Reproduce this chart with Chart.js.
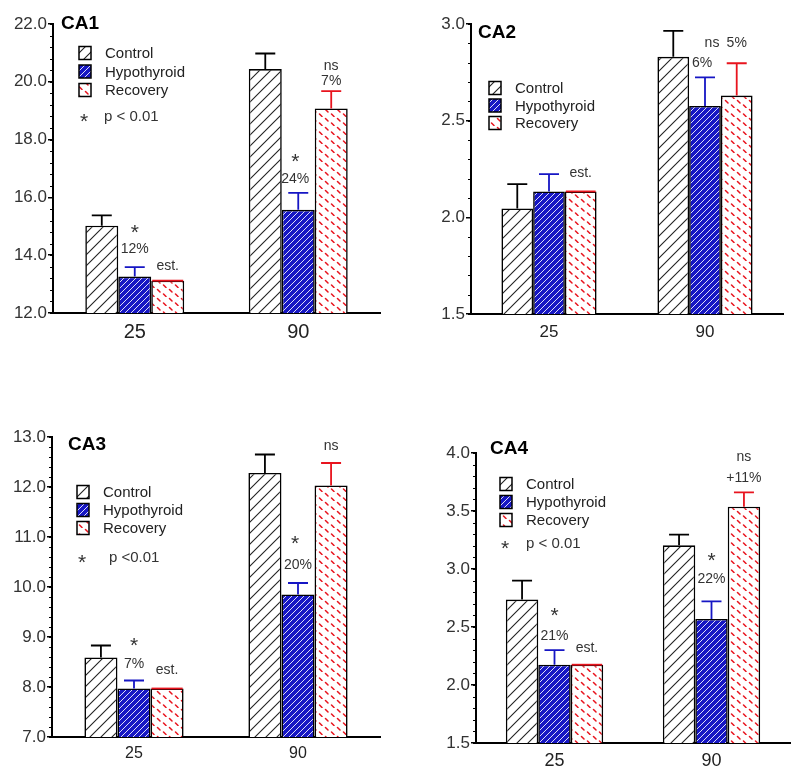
<!DOCTYPE html>
<html>
<head>
<meta charset="utf-8">
<script src="https://cdn.jsdelivr.net/npm/chart.js@4.4.0/dist/chart.umd.min.js"></script>
<style>
  body { margin: 0; background: #fff; width: 800px; height: 776px; position: relative; overflow: hidden; }
  canvas { position: absolute; }
</style>
</head>
<body>
<canvas id="ca1" width="400" height="345" style="left:0;top:0"></canvas>
<canvas id="ca2" width="400" height="345" style="left:400px;top:0"></canvas>
<canvas id="ca3" width="400" height="356" style="left:0;top:420px"></canvas>
<canvas id="ca4" width="400" height="356" style="left:400px;top:420px"></canvas>
<script>
// age groups (days) and series
var groups = ['25', '90'];
var seriesNames = ['Control', 'Hypothyroid', 'Recovery'];

// CA1
var ca1Control = [15.02, 20.44];
var ca1ControlSem = [0.36, 0.54];
var ca1Hypo = [13.26, 15.57];
var ca1HypoSem = [0.33, 0.59];
var ca1Recovery = [13.12, 19.08];
var ca1RecoverySem = [0, 0.60];
var ca1Ticks = [12.0, 22.0, 2.0, 0.4];

// CA2
var ca2Control = [2.046, 2.83];
var ca2ControlSem = [0.126, 0.134];
var ca2Hypo = [2.134, 2.576];
var ca2HypoSem = [0.089, 0.148];
var ca2Recovery = [2.134, 2.63];
var ca2RecoverySem = [0, 0.167];
var ca2Ticks = [1.5, 3.0, 0.5, 0.1];

// CA3
var ca3Control = [8.59, 12.28];
var ca3ControlSem = [0.24, 0.37];
var ca3Hypo = [7.97, 9.85];
var ca3HypoSem = [0.16, 0.23];
var ca3Recovery = [7.97, 12.03];
var ca3RecoverySem = [0, 0.45];
var ca3Ticks = [7.0, 13.0, 1.0, 0.2];

// CA4
var ca4Control = [2.736, 3.204];
var ca4ControlSem = [0.164, 0.092];
var ca4Hypo = [2.175, 2.569];
var ca4HypoSem = [0.125, 0.152];
var ca4Recovery = [2.175, 3.537];
var ca4RecoverySem = [0, 0.124];
var ca4Ticks = [1.5, 4.0, 0.5, 0.1];

// text above bars: [dataset, group, value, text, dx]
var ca1Notes = [[1,0,14.94,'*'], [1,0,14.21,'12%'], [2,0,13.63,'est.'], [1,1,17.40,'*',-3], [1,1,16.64,'24%',-3], [2,1,20.55,'ns'], [2,1,20.03,'7%']];
var ca2Notes = [[2,0,2.229,'est.'], [1,1,2.80,'6%',-3], [1,1,2.90,'ns',7], [2,1,2.90,'5%']];
var ca3Notes = [[1,0,8.91,'*'], [1,0,8.46,'7%'], [2,0,8.34,'est.'], [1,1,10.96,'*',-3], [1,1,10.44,'20%'], [2,1,12.81,'ns']];
var ca4Notes = [[1,0,2.64,'*'], [1,0,2.42,'21%'], [2,0,2.32,'est.'], [1,1,3.11,'*'], [1,1,2.91,'22%'], [2,1,3.96,'ns'], [2,1,3.78,'+11%']];

var FONT = '"Liberation Sans", Arial, sans-serif';
var BLUE = '#1616c4';
var RED = '#e8141e';

function makePattern(kind) {
  var c = document.createElement('canvas');
  var g = c.getContext('2d');
  if (kind == 'control') {
    c.width = 11; c.height = 11;
    g.fillStyle = '#fff'; g.fillRect(0, 0, 11, 11);
    g.strokeStyle = '#222'; g.lineWidth = 1.1;
    g.beginPath();
    g.moveTo(-1, 12); g.lineTo(12, -1);
    g.moveTo(-2, 2); g.lineTo(2, -2);
    g.moveTo(9, 13); g.lineTo(13, 9);
    g.stroke();
  } else if (kind == 'hypo') {
    c.width = 6; c.height = 6;
    g.fillStyle = BLUE; g.fillRect(0, 0, 6, 6);
    g.strokeStyle = 'rgba(255,255,255,0.85)'; g.lineWidth = 1;
    g.beginPath();
    g.moveTo(-1, 7); g.lineTo(7, -1);
    g.moveTo(-2, 2); g.lineTo(2, -2);
    g.moveTo(4, 8); g.lineTo(8, 4);
    g.stroke();
  } else {
    // short red dashes going down-right, staggered so they don't join up
    c.width = 12; c.height = 9;
    g.fillStyle = '#fff'; g.fillRect(0, 0, 12, 9);
    g.strokeStyle = RED; g.lineWidth = 1.5; g.lineCap = 'round';
    g.beginPath();
    g.moveTo(1.5, 1.5); g.lineTo(4, 4);
    g.moveTo(7.5, 6); g.lineTo(10, 8.5);
    g.stroke();
  }
  return g.createPattern(c, 'repeat');
}

var patterns = [makePattern('control'), makePattern('hypo'), makePattern('recovery')];
var errColors = ['#000', BLUE, RED];

// error bars (upward only), notes, legend, minor ticks, title
var extras = {
  id: 'extras',
  afterDatasetsDraw: function(chart) {
    var ctx = chart.ctx;
    var y = chart.scales.y;
    var p = chart.options.plugins.extras;
    ctx.save();
    chart.data.datasets.forEach(function(ds, d) {
      var meta = chart.getDatasetMeta(d);
      meta.data.forEach(function(bar, i) {
        var top = y.getPixelForValue(ds.data[i] + ds.sem[i]);
        var half = ds.sem[i] > 0 ? 10 : bar.width / 2 - 1;
        ctx.strokeStyle = errColors[d];
        ctx.lineWidth = 1.8;
        ctx.beginPath();
        ctx.moveTo(bar.x, bar.y);
        ctx.lineTo(bar.x, top);
        ctx.moveTo(bar.x - half, top);
        ctx.lineTo(bar.x + half, top);
        ctx.stroke();
      });
    });

    // notes
    ctx.fillStyle = '#333';
    ctx.textAlign = 'center';
    ctx.textBaseline = 'middle';
    p.notes.forEach(function(n) {
      var bar = chart.getDatasetMeta(n[0]).data[n[1]];
      var px = bar.x + (n[4] || 0);
      var py = y.getPixelForValue(n[2]);
      if (n[3] == '*') {
        ctx.font = '21px ' + FONT;
        ctx.fillText('*', px, py + 5);
      } else {
        ctx.font = '14px ' + FONT;
        ctx.fillText(n[3], px, py);
      }
    });

    // minor ticks on y axis
    var x0 = chart.chartArea.left;
    var t = p.ticks;
    ctx.strokeStyle = '#000';
    ctx.lineWidth = 1.2;
    ctx.beginPath();
    var nMinor = Math.round((t[1] - t[0]) / t[3]);
    for (var k = 0; k <= nMinor; k++) {
      var v = t[0] + k * t[3];
      var py2 = Math.round(y.getPixelForValue(v)) + 0.5;
      ctx.moveTo(x0 - 3, py2);
      ctx.lineTo(x0, py2);
    }
    ctx.stroke();

    // title
    ctx.fillStyle = '#000';
    ctx.textAlign = 'left';
    ctx.font = 'bold 19px ' + FONT;
    ctx.fillText(p.title, p.titlePos[0], p.titlePos[1]);

    // legend
    var L = p.legend;
    for (var s = 0; s < seriesNames.length; s++) {
      var cy = L.y + s * L.row;
      ctx.fillStyle = patterns[s];
      ctx.fillRect(L.x, cy - 6.5, 12, 13);
      ctx.strokeStyle = '#000';
      ctx.lineWidth = 1.5;
      ctx.strokeRect(L.x, cy - 6.5, 12, 13);
      ctx.fillStyle = '#222';
      ctx.font = '15px ' + FONT;
      ctx.fillText(seriesNames[s], L.x + 26, cy + 1);
    }
    if (L.p) {
      var cy3 = L.y + 3 * L.row + L.pGap;
      ctx.fillStyle = '#333';
      ctx.font = '21px ' + FONT;
      ctx.fillText('*', L.x + 1, cy3 + 5);
      ctx.font = '15px ' + FONT;
      ctx.fillText(L.p, L.x + L.pdx, cy3);
    }
    ctx.restore();
  }
};

function drawPanel(id, control, controlSem, hypo, hypoSem, recovery, recoverySem, ticks, notes, look) {
  var ctx = document.getElementById(id).getContext('2d');
  new Chart(ctx, {
    type: 'bar',
    data: {
      labels: groups,
      datasets: [
        { label: seriesNames[0], data: control, sem: controlSem, backgroundColor: patterns[0] },
        { label: seriesNames[1], data: hypo, sem: hypoSem, backgroundColor: patterns[1] },
        { label: seriesNames[2], data: recovery, sem: recoverySem, backgroundColor: patterns[2] }
      ]
    },
    options: {
      responsive: false,
      animation: false,
      datasets: {
        bar: { borderColor: '#000', borderWidth: 1.6, barPercentage: 1, categoryPercentage: look.cat }
      },
      layout: { padding: { top: look.top, right: look.right, left: 0, bottom: 0 } },
      scales: {
        x: {
          grid: { display: false, drawTicks: false },
          border: { color: '#000', width: 2 },
          ticks: { color: '#222', font: { family: FONT, size: look.xFont }, padding: look.xPad },
          afterFit: function(s) { s.height = look.xh; }
        },
        y: {
          min: ticks[0],
          max: ticks[1],
          ticks: {
            stepSize: ticks[2],
            color: '#333',
            padding: 1,
            font: { family: FONT, size: 17 },
            callback: function(v) { return v.toFixed(1); }
          },
          grid: { drawOnChartArea: false, color: '#000', lineWidth: 1.5, tickLength: 5 },
          border: { color: '#000', width: 2 },
          afterFit: function(s) { s.width = look.yw; }
        }
      },
      plugins: {
        legend: { display: false },
        tooltip: { enabled: false },
        extras: { notes: notes, ticks: ticks, title: look.title, titlePos: look.titlePos, legend: look.legend }
      }
    },
    plugins: [extras]
  });
}

drawPanel('ca1', ca1Control, ca1ControlSem, ca1Hypo, ca1HypoSem, ca1Recovery, ca1RecoverySem, ca1Ticks, ca1Notes,
  { title: 'CA1', titlePos: [61, 24], top: 24, right: 20, yw: 53, xh: 32, xFont: 20, xPad: 7, cat: 0.605,
    legend: { x: 79, y: 53, row: 18.5, p: 'p < 0.01', pdx: 25, pGap: 8.5 } });
drawPanel('ca2', ca2Control, ca2ControlSem, ca2Hypo, ca2HypoSem, ca2Recovery, ca2RecoverySem, ca2Ticks, ca2Notes,
  { title: 'CA2', titlePos: [78, 33], top: 24, right: 17, yw: 71, xh: 31, xFont: 17, xPad: 8, cat: 0.61,
    legend: { x: 89, y: 88, row: 17.5 } });
drawPanel('ca3', ca3Control, ca3ControlSem, ca3Hypo, ca3HypoSem, ca3Recovery, ca3RecoverySem, ca3Ticks, ca3Notes,
  { title: 'CA3', titlePos: [68, 25], top: 17, right: 20, yw: 52, xh: 39, xFont: 16, xPad: 7, cat: 0.605,
    legend: { x: 77, y: 72, row: 18, p: 'p <0.01', pdx: 32, pGap: 12 } });
drawPanel('ca4', ca4Control, ca4ControlSem, ca4Hypo, ca4HypoSem, ca4Recovery, ca4RecoverySem, ca4Ticks, ca4Notes,
  { title: 'CA4', titlePos: [90, 29], top: 33, right: 10, yw: 76, xh: 33, xFont: 18, xPad: 7, cat: 0.62,
    legend: { x: 100, y: 64, row: 18, p: 'p < 0.01', pdx: 26, pGap: 6 } });
</script>
</body>
</html>
